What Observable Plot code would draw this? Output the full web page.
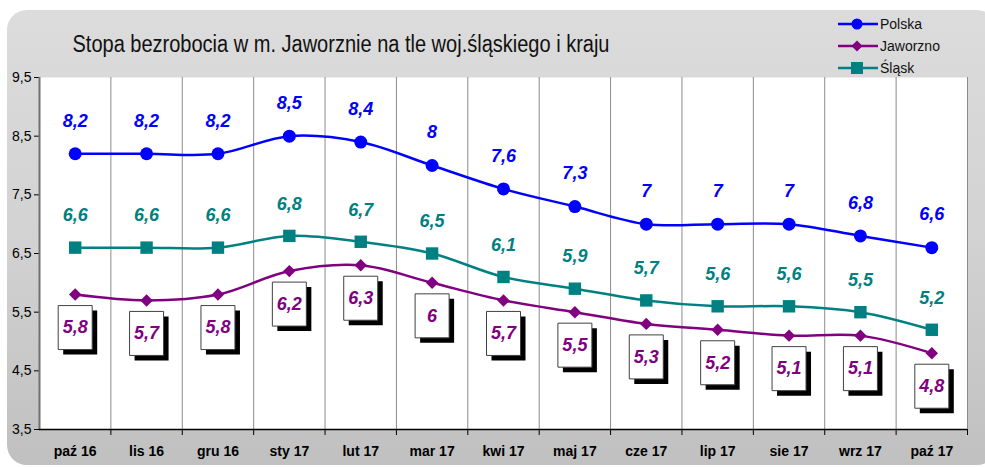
<!DOCTYPE html>
<html>
<head>
<meta charset="utf-8">
<script src="https://cdn.jsdelivr.net/npm/d3@7"></script>
<script src="https://cdn.jsdelivr.net/npm/@observablehq/plot@0.6"></script>
<style>
  html, body { margin: 0; padding: 0; background: #ffffff; }
  #wrap { position: relative; width: 985px; height: 467px; overflow: hidden; font-family: "Liberation Sans", Arial, sans-serif; }
  #bg { position: absolute; left: 7px; top: 10px; width: 990px; height: 455px; border-radius: 20px;
        background: linear-gradient(to bottom, #dcdcdc 0%, #d2d2d2 50%, #c0c0c0 100%); }
  #chart { position: absolute; left: 0; top: 0; }
  #overlay { position: absolute; left: 0; top: 0; pointer-events: none; }
</style>
</head>
<body>
<div id="wrap">
  <div id="bg"></div>
  <div id="chart"></div>
  <svg id="overlay" width="985" height="90"></svg>
</div>
<script>
const months = ["paź 16","lis 16","gru 16","sty 17","lut 17","mar 17","kwi 17","maj 17","cze 17","lip 17","sie 17","wrz 17","paź 17"];
const polska   = [8.2, 8.2, 8.2, 8.5, 8.4, 8.0, 7.6, 7.3, 7.0, 7.0, 7.0, 6.8, 6.6];
const jaworzno = [5.8, 5.7, 5.8, 6.2, 6.3, 6.0, 5.7, 5.5, 5.3, 5.2, 5.1, 5.1, 4.8];
const slask    = [6.6, 6.6, 6.6, 6.8, 6.7, 6.5, 6.1, 5.9, 5.7, 5.6, 5.6, 5.5, 5.2];
const yTicks   = [3.5, 4.5, 5.5, 6.5, 7.5, 8.5, 9.5];
const seriesNames = ["Polska", "Jaworzno", "Śląsk"];
const colors = {Polska: "#0000ff", Jaworzno: "#800080", "Śląsk": "#008080"};
const title = "Stopa bezrobocia w m. Jaworznie na tle woj.śląskiego i kraju";

const fmt = v => String(v).replace(".", ",");
const rows = months.map((m, i) => ({i, m, polska: polska[i], jaw: jaworzno[i], slask: slask[i]}));
const bounds = d3.range(13).map(i => i + 0.5);
const labelFont = '"Liberation Sans Narrow", "Arial Narrow", "Liberation Sans", Arial, sans-serif';

const boxSym = { draw(ctx) { ctx.moveTo(-17, -22); ctx.lineTo(17, -22); ctx.lineTo(17, 22); ctx.lineTo(-17, 22); ctx.closePath(); } };

const plot = Plot.plot({
  width: 985, height: 467,
  marginLeft: 39, marginRight: 18, marginTop: 77, marginBottom: 38,
  style: {background: "transparent", fontFamily: '"Liberation Sans", Arial, sans-serif', overflow: "visible"},
  x: {type: "linear", domain: [-0.5, 12.5], axis: null, label: null},
  y: {type: "linear", domain: [3.5, 9.5], axis: null, label: null},
  marks: [
    Plot.frame({fill: "white"}),
    Plot.ruleX(bounds, {y1: 3.5, y2: 9.5, stroke: "#8c8c8c", strokeWidth: 1}),
    Plot.axisX(bounds, {tickFormat: () => "", tickSize: 6, stroke: "black", label: null}),
    Plot.axisX(d3.range(13), {tickFormat: i => months[i], tickSize: 0, tickPadding: 17, fontSize: 14, fontWeight: "bold", fill: "black", label: null}),
    Plot.axisY(yTicks, {tickFormat: fmt, tickSize: 5, tickPadding: 3, fontSize: 14, fill: "black", label: null}),
    Plot.ruleX([-0.5], {y1: 3.5, y2: 9.5, stroke: "#707070", strokeWidth: 2}),
    Plot.ruleY([3.5], {stroke: "black", strokeWidth: 1.5}),
    // lines
    Plot.line(rows, {x: "i", y: "slask", stroke: colors["Śląsk"], strokeWidth: 2.5, curve: "catmull-rom"}),
    Plot.line(rows, {x: "i", y: "jaw", stroke: colors.Jaworzno, strokeWidth: 2.5, curve: "catmull-rom"}),
    Plot.line(rows, {x: "i", y: "polska", stroke: colors.Polska, strokeWidth: 2.5, curve: "catmull-rom"}),
    // markers
    Plot.dot(rows, {x: "i", y: "slask", symbol: "square", r: 7, fill: colors["Śląsk"], stroke: "none"}),
    Plot.dot(rows, {x: "i", y: "jaw", symbol: "diamond2", r: 5.6, fill: colors.Jaworzno, stroke: "none"}),
    Plot.dot(rows, {x: "i", y: "polska", symbol: "circle", r: 6.5, fill: colors.Polska, stroke: "none"}),
    // Jaworzno label boxes
    Plot.dot(rows, {x: "i", y: "jaw", symbol: boxSym, fill: "black", stroke: "none", dx: 5, dy: 38}),
    Plot.dot(rows, {x: "i", y: "jaw", symbol: boxSym, fill: "white", stroke: "#404040", strokeWidth: 1, dy: 33}),
    // labels
    Plot.text(rows, {x: "i", y: "polska", text: d => fmt(d.polska), dy: -33, fill: colors.Polska, fontSize: 18, fontWeight: "bold", fontStyle: "italic", fontFamily: labelFont}),
    Plot.text(rows, {x: "i", y: "slask", text: d => fmt(d.slask), dy: -32, fill: colors["Śląsk"], fontSize: 18, fontWeight: "bold", fontStyle: "italic", fontFamily: labelFont}),
    Plot.text(rows, {x: "i", y: "jaw", text: d => fmt(d.jaw), dy: 33, fill: colors.Jaworzno, fontSize: 18, fontWeight: "bold", fontStyle: "italic", fontFamily: labelFont})
  ]
});
document.getElementById("chart").appendChild(plot);

// Title and legend overlay
const ov = d3.select("#overlay");
ov.append("text").attr("x", 72.5).attr("y", 52).attr("font-size", 23)
  .attr("font-family", '"Liberation Sans Narrow", "Liberation Sans", Arial, sans-serif')
  .attr("textLength", 537).attr("lengthAdjust", "spacingAndGlyphs")
  .attr("fill", "#111").text(title);

const legY = [24, 46, 68];
seriesNames.forEach((name, k) => {
  const y = legY[k], c = colors[name];
  ov.append("line").attr("x1", 838).attr("x2", 878).attr("y1", y).attr("y2", y).attr("stroke", c).attr("stroke-width", 2.5);
  if (k === 0) ov.append("circle").attr("cx", 857).attr("cy", y).attr("r", 5.5).attr("fill", c);
  if (k === 1) ov.append("path").attr("d", d3.symbol(d3.symbolDiamond2, Math.PI * 5 * 5)()).attr("transform", `translate(857,${y})`).attr("fill", c);
  if (k === 2) ov.append("rect").attr("x", 851).attr("y", y - 6).attr("width", 12).attr("height", 12).attr("fill", c);
  ov.append("text").attr("x", 880).attr("y", y + 5).attr("font-size", 14)
    .attr("font-family", '"Liberation Sans", Arial, sans-serif').attr("fill", "#111").text(name);
});
</script>
</body>
</html>
